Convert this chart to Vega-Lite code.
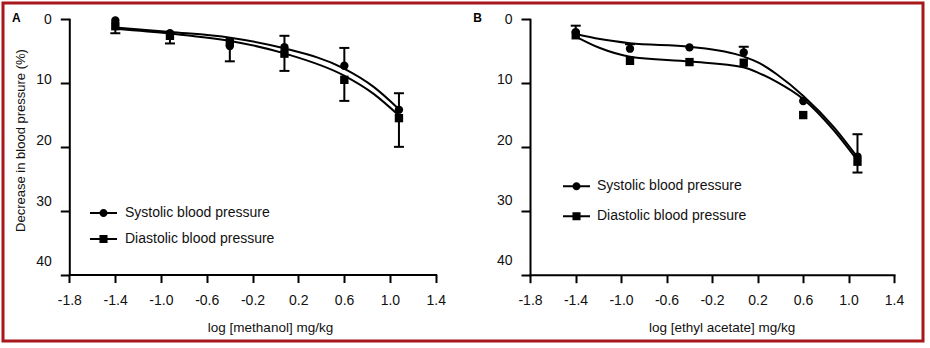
{
  "$schema": "https://vega.github.io/schema/vega-lite/v6.json",
  "width": 920,
  "height": 338,
  "padding": {"left": 3, "top": 3, "right": 7, "bottom": 7},
  "autosize": {"type": "none"},
  "background": "white",
  "config": {
    "font": "Liberation Sans",
    "view": {"stroke": "#a8171c", "strokeWidth": 3},
    "axis": {
      "grid": false,
      "domainColor": "black",
      "domainWidth": 2,
      "domainCap": "square",
      "tickColor": "black",
      "tickWidth": 2,
      "labelFont": "Liberation Sans",
      "labelFontSize": 14,
      "labelColor": "#111",
      "labelFlush": false,
      "labelOverlap": false,
      "titleFont": "Liberation Sans",
      "titleFontSize": 13.5,
      "titleFontWeight": "normal",
      "titleColor": "#111"
    },
    "legend": {
      "labelFont": "Liberation Sans", "labelFontSize": 14, "labelColor": "#111",
      "symbolSize": 729, "symbolStrokeWidth": 0, "symbolFillColor": "black", "symbolOpacity": 1
    }
  },
  "title": {"text": "A", "anchor": "start", "frame": "group", "orient": "top", "offset": 0, "baseline": "alphabetic", "dx": 9, "dy": 30.5, "fontSize": 12, "fontWeight": "bold", "font": "Liberation Sans", "color": "black"},
  "datasets": {
    "pts": [
      {"panel": "A", "series": "Systolic blood pressure", "x": -1.398, "y": 0.2},
      {"panel": "A", "series": "Systolic blood pressure", "x": -0.921, "y": 2.2},
      {"panel": "A", "series": "Systolic blood pressure", "x": -0.398, "y": 4.2},
      {"panel": "A", "series": "Systolic blood pressure", "x": 0.079, "y": 4.4},
      {"panel": "A", "series": "Systolic blood pressure", "x": 0.602, "y": 7.3},
      {"panel": "A", "series": "Systolic blood pressure", "x": 1.079, "y": 14.2},
      {"panel": "A", "series": "Diastolic blood pressure", "x": -1.398, "y": 1.1},
      {"panel": "A", "series": "Diastolic blood pressure", "x": -0.921, "y": 2.6},
      {"panel": "A", "series": "Diastolic blood pressure", "x": -0.398, "y": 3.6},
      {"panel": "A", "series": "Diastolic blood pressure", "x": 0.079, "y": 5.4},
      {"panel": "A", "series": "Diastolic blood pressure", "x": 0.602, "y": 9.5},
      {"panel": "A", "series": "Diastolic blood pressure", "x": 1.079, "y": 15.5},
      {"panel": "B", "series": "Systolic blood pressure", "x": -1.398, "y": 2.0},
      {"panel": "B", "series": "Systolic blood pressure", "x": -0.921, "y": 4.6},
      {"panel": "B", "series": "Systolic blood pressure", "x": -0.398, "y": 4.4},
      {"panel": "B", "series": "Systolic blood pressure", "x": 0.079, "y": 5.2},
      {"panel": "B", "series": "Systolic blood pressure", "x": 0.602, "y": 12.8},
      {"panel": "B", "series": "Systolic blood pressure", "x": 1.079, "y": 21.5},
      {"panel": "B", "series": "Diastolic blood pressure", "x": -1.398, "y": 2.5},
      {"panel": "B", "series": "Diastolic blood pressure", "x": -0.921, "y": 6.5},
      {"panel": "B", "series": "Diastolic blood pressure", "x": -0.398, "y": 6.7},
      {"panel": "B", "series": "Diastolic blood pressure", "x": 0.079, "y": 6.8},
      {"panel": "B", "series": "Diastolic blood pressure", "x": 0.602, "y": 15.0},
      {"panel": "B", "series": "Diastolic blood pressure", "x": 1.079, "y": 22.3}
    ],
    "fit": [
      {"panel": "A", "series": "Systolic blood pressure", "x": -1.398, "y": 1.3},
      {"panel": "A", "series": "Systolic blood pressure", "x": -0.918, "y": 2.0},
      {"panel": "A", "series": "Systolic blood pressure", "x": -0.394, "y": 2.9},
      {"panel": "A", "series": "Systolic blood pressure", "x": 0.086, "y": 4.6},
      {"panel": "A", "series": "Systolic blood pressure", "x": 0.596, "y": 7.7},
      {"panel": "A", "series": "Systolic blood pressure", "x": 0.858, "y": 10.6},
      {"panel": "A", "series": "Systolic blood pressure", "x": 1.079, "y": 14.1},
      {"panel": "A", "series": "Diastolic blood pressure", "x": -1.398, "y": 1.5},
      {"panel": "A", "series": "Diastolic blood pressure", "x": -0.918, "y": 2.25},
      {"panel": "A", "series": "Diastolic blood pressure", "x": -0.394, "y": 3.4},
      {"panel": "A", "series": "Diastolic blood pressure", "x": 0.086, "y": 5.4},
      {"panel": "A", "series": "Diastolic blood pressure", "x": 0.596, "y": 8.8},
      {"panel": "A", "series": "Diastolic blood pressure", "x": 0.858, "y": 11.7},
      {"panel": "A", "series": "Diastolic blood pressure", "x": 1.079, "y": 15.1},
      {"panel": "B", "series": "Systolic blood pressure", "x": -1.398, "y": 2.3},
      {"panel": "B", "series": "Systolic blood pressure", "x": -1.185, "y": 3.1},
      {"panel": "B", "series": "Systolic blood pressure", "x": -0.921, "y": 3.75},
      {"panel": "B", "series": "Systolic blood pressure", "x": -0.393, "y": 4.3},
      {"panel": "B", "series": "Systolic blood pressure", "x": 0.075, "y": 5.8},
      {"panel": "B", "series": "Systolic blood pressure", "x": 0.222, "y": 6.9},
      {"panel": "B", "series": "Systolic blood pressure", "x": 0.369, "y": 8.6},
      {"panel": "B", "series": "Systolic blood pressure", "x": 0.603, "y": 12.0},
      {"panel": "B", "series": "Systolic blood pressure", "x": 0.867, "y": 16.8},
      {"panel": "B", "series": "Systolic blood pressure", "x": 1.079, "y": 21.6},
      {"panel": "B", "series": "Diastolic blood pressure", "x": -1.398, "y": 2.7},
      {"panel": "B", "series": "Diastolic blood pressure", "x": -1.185, "y": 4.5},
      {"panel": "B", "series": "Diastolic blood pressure", "x": -0.921, "y": 5.85},
      {"panel": "B", "series": "Diastolic blood pressure", "x": -0.393, "y": 6.6},
      {"panel": "B", "series": "Diastolic blood pressure", "x": 0.075, "y": 7.5},
      {"panel": "B", "series": "Diastolic blood pressure", "x": 0.222, "y": 8.5},
      {"panel": "B", "series": "Diastolic blood pressure", "x": 0.369, "y": 9.8},
      {"panel": "B", "series": "Diastolic blood pressure", "x": 0.603, "y": 12.5},
      {"panel": "B", "series": "Diastolic blood pressure", "x": 0.867, "y": 17.3},
      {"panel": "B", "series": "Diastolic blood pressure", "x": 1.079, "y": 22.1}
    ],
    "err": [
      {"panel": "A", "x": -1.398, "from": 1.1, "to": 2.2},
      {"panel": "A", "x": -0.921, "from": 2.6, "to": 3.8},
      {"panel": "A", "x": -0.398, "from": 4.2, "to": 6.6},
      {"panel": "A", "x": 0.079, "from": 4.4, "to": 2.6},
      {"panel": "A", "x": 0.079, "from": 5.4, "to": 8.1},
      {"panel": "A", "x": 0.602, "from": 7.3, "to": 4.5},
      {"panel": "A", "x": 0.602, "from": 9.5, "to": 12.8},
      {"panel": "A", "x": 1.079, "from": 14.2, "to": 11.6},
      {"panel": "A", "x": 1.079, "from": 15.5, "to": 20.0},
      {"panel": "B", "x": -1.398, "from": 2.0, "to": 1.0},
      {"panel": "B", "x": -0.921, "from": 4.6, "to": 3.9},
      {"panel": "B", "x": 0.079, "from": 5.2, "to": 4.3},
      {"panel": "B", "x": 1.079, "from": 21.5, "to": 18.0},
      {"panel": "B", "x": 1.079, "from": 22.3, "to": 24.0}
    ]
  },
  "layer": [
    {
      "layer": [
        {
          "data": {"name": "fit"},
          "transform": [{"filter": "datum.panel === 'A'"}],
          "mark": {"type": "line", "interpolate": "monotone", "color": "black", "strokeWidth": 2},
          "encoding": {
            "x": {
              "field": "x", "type": "quantitative",
              "scale": {"domain": [-1.8, 1.4], "range": [66.3, 432.7], "nice": false, "zero": false},
              "axis": {
                "orient": "bottom", "offset": -66.5,
                "values": [-1.8, -1.4, -1.0, -0.6, -0.2, 0.2, 0.6, 1.0, 1.4],
                "labelExpr": "(datum.value < 0 ? '-' : '') + format(abs(datum.value), '.1f')",
                "tickSize": 8, "labelPadding": 11,
                "title": "log [methanol] mg/kg",
                "titleX": 267, "titleY": 57, "titleAlign": "center", "titleBaseline": "alphabetic"
              }
            },
            "y": {
              "field": "y", "type": "quantitative",
              "scale": {"domain": [0, 40], "range": [16.2, 271.5], "nice": false, "zero": false},
              "axis": {
                "orient": "left", "offset": -66.3,
                "values": [0, 10, 20, 30, 40],
                "tickSize": 9, "labels": false,
                "title": "Decrease in blood pressure (%)",
                "titleFontSize": 13,
                "titleX": -49.3, "titleY": 137, "titleAngle": 270, "titleAlign": "center", "titleBaseline": "middle"
              }
            },
            "detail": {"field": "series", "type": "nominal"}
          }
        },
        {
          "data": {"name": "err"},
          "transform": [{"filter": "datum.panel === 'A'"}],
          "mark": {"type": "rule", "color": "black", "strokeWidth": 2},
          "encoding": {
            "x": {"field": "x", "type": "quantitative"},
            "y": {"field": "from", "type": "quantitative"},
            "y2": {"field": "to"}
          }
        },
        {
          "data": {"name": "err"},
          "transform": [{"filter": "datum.panel === 'A'"}],
          "mark": {"type": "tick", "orient": "horizontal", "color": "black", "size": 10, "thickness": 2, "opacity": 1},
          "encoding": {
            "x": {"field": "x", "type": "quantitative"},
            "y": {"field": "to", "type": "quantitative"}
          }
        },
        {
          "data": {"name": "pts"},
          "transform": [{"filter": "datum.panel === 'A'"}],
          "mark": {"type": "point", "filled": true, "color": "black", "size": 70, "opacity": 1},
          "encoding": {
            "x": {"field": "x", "type": "quantitative"},
            "y": {"field": "y", "type": "quantitative"},
            "shape": {
              "field": "series", "type": "nominal",
              "scale": {"domain": ["Systolic blood pressure", "Diastolic blood pressure"], "range": ["circle", "square"]},
              "legend": null
            }
          }
        }
      ]
    },
    {
      "layer": [
        {
          "data": {"name": "fit"},
          "transform": [{"filter": "datum.panel === 'B'"}],
          "mark": {"type": "line", "interpolate": "monotone", "color": "black", "strokeWidth": 2},
          "encoding": {
            "x": {
              "field": "x", "type": "quantitative",
              "scale": {"domain": [-1.8, 1.4], "range": [527, 891], "nice": false, "zero": false},
              "axis": {
                "orient": "bottom", "offset": -66.3,
                "values": [-1.8, -1.4, -1.0, -0.6, -0.2, 0.2, 0.6, 1.0, 1.4],
                "labelExpr": "(datum.value < 0 ? '-' : '') + format(abs(datum.value), '.1f')",
                "tickSize": 8, "labelPadding": 11,
                "title": "log [ethyl acetate] mg/kg",
                "titleX": 718.7, "titleY": 57, "titleAlign": "center", "titleBaseline": "alphabetic"
              }
            },
            "y": {
              "field": "y", "type": "quantitative",
              "scale": {"domain": [0, 40], "range": [16.3, 271.7], "nice": false, "zero": false},
              "axis": {
                "orient": "left", "offset": -527,
                "values": [0, 10, 20, 30, 40],
                "tickSize": 9, "labels": false,
                "title": "B",
                "titleX": -53, "titleY": 14.5, "titleAngle": 0, "titleAlign": "center", "titleBaseline": "middle",
                "titleFontWeight": "bold", "titleFontSize": 12, "titleColor": "black"
              }
            },
            "detail": {"field": "series", "type": "nominal"}
          }
        },
        {
          "data": {"name": "err"},
          "transform": [{"filter": "datum.panel === 'B'"}],
          "mark": {"type": "rule", "color": "black", "strokeWidth": 2},
          "encoding": {
            "x": {"field": "x", "type": "quantitative"},
            "y": {"field": "from", "type": "quantitative"},
            "y2": {"field": "to"}
          }
        },
        {
          "data": {"name": "err"},
          "transform": [{"filter": "datum.panel === 'B'"}],
          "mark": {"type": "tick", "orient": "horizontal", "color": "black", "size": 10, "thickness": 2, "opacity": 1},
          "encoding": {
            "x": {"field": "x", "type": "quantitative"},
            "y": {"field": "to", "type": "quantitative"}
          }
        },
        {
          "data": {"name": "pts"},
          "transform": [{"filter": "datum.panel === 'B'"}],
          "mark": {"type": "point", "filled": true, "color": "black", "size": 70, "opacity": 1},
          "encoding": {
            "x": {"field": "x", "type": "quantitative"},
            "y": {"field": "y", "type": "quantitative"},
            "shape": {
              "field": "series", "type": "nominal",
              "scale": {"domain": ["Systolic blood pressure", "Diastolic blood pressure"], "range": ["circle", "square"]},
              "legend": null
            }
          }
        }
      ]
    },
    {
      "data": {"name": "pts"},
      "transform": [{"filter": "datum.panel === 'A'"}],
      "mark": {"type": "point", "opacity": 0, "filled": true, "color": "black"},
      "encoding": {
        "x": {"field": "x", "type": "quantitative", "scale": {"domain": [-1.8, 1.4], "range": [66.3, 432.7], "nice": false, "zero": false}, "axis": null},
        "y": {
          "field": "y", "type": "quantitative",
          "scale": {"domain": [0, 40], "range": [16.2, 258.7], "nice": false, "zero": false},
          "axis": {"orient": "left", "offset": -50.3, "values": [0, 10, 20, 30, 40], "domain": false, "ticks": false, "labelPadding": 2, "labelAlign": "right", "labelBaseline": "middle", "title": null}
        },
        "shape": {
          "field": "series", "type": "nominal",
          "scale": {"domain": ["Systolic blood pressure", "Diastolic blood pressure"], "range": ["M-1,-0.075L1,-0.075L1,0.075L-1,0.075ZM-0.3,0A0.3,0.3,0,1,1,0.3,0A0.3,0.3,0,1,1,-0.3,0Z", "M-1,-0.075L1,-0.075L1,0.075L-1,0.075ZM-0.3,-0.3L0.3,-0.3L0.3,0.3L-0.3,0.3Z"]},
          "legend": {
            "title": null, "orient": "none", "legendX": 87, "legendY": 196.5, "direction": "vertical",
            "padding": 0, "symbolSize": 729, "symbolOpacity": 1, "symbolFillColor": "black",
            "labelOffset": 8, "rowPadding": 5
          }
        }
      }
    },
    {
      "data": {"name": "pts"},
      "transform": [{"filter": "datum.panel === 'B'"}],
      "mark": {"type": "point", "opacity": 0, "filled": true, "color": "black"},
      "encoding": {
        "x": {"field": "x", "type": "quantitative", "scale": {"domain": [-1.8, 1.4], "range": [527, 891], "nice": false, "zero": false}, "axis": null},
        "y": {
          "field": "y", "type": "quantitative",
          "scale": {"domain": [0, 40], "range": [16.3, 257.7], "nice": false, "zero": false},
          "axis": {"orient": "left", "offset": -511, "values": [0, 10, 20, 30, 40], "domain": false, "ticks": false, "labelPadding": 2, "labelAlign": "right", "labelBaseline": "middle", "title": null}
        },
        "shape": {
          "field": "series", "type": "nominal",
          "scale": {"domain": ["Systolic blood pressure", "Diastolic blood pressure"], "range": ["M-1,-0.075L1,-0.075L1,0.075L-1,0.075ZM-0.3,0A0.3,0.3,0,1,1,0.3,0A0.3,0.3,0,1,1,-0.3,0Z", "M-1,-0.075L1,-0.075L1,0.075L-1,0.075ZM-0.3,-0.3L0.3,-0.3L0.3,0.3L-0.3,0.3Z"]},
          "legend": {
            "title": null, "orient": "none", "legendX": 560, "legendY": 169.7, "direction": "vertical",
            "padding": 0, "symbolSize": 729, "symbolOpacity": 1, "symbolFillColor": "black",
            "labelOffset": 7, "rowPadding": 9
          }
        }
      }
    }
  ],
  "resolve": {
    "scale": {"x": "independent", "y": "independent", "shape": "independent"},
    "axis": {"x": "independent", "y": "independent"},
    "legend": {"shape": "independent"}
  }
}
